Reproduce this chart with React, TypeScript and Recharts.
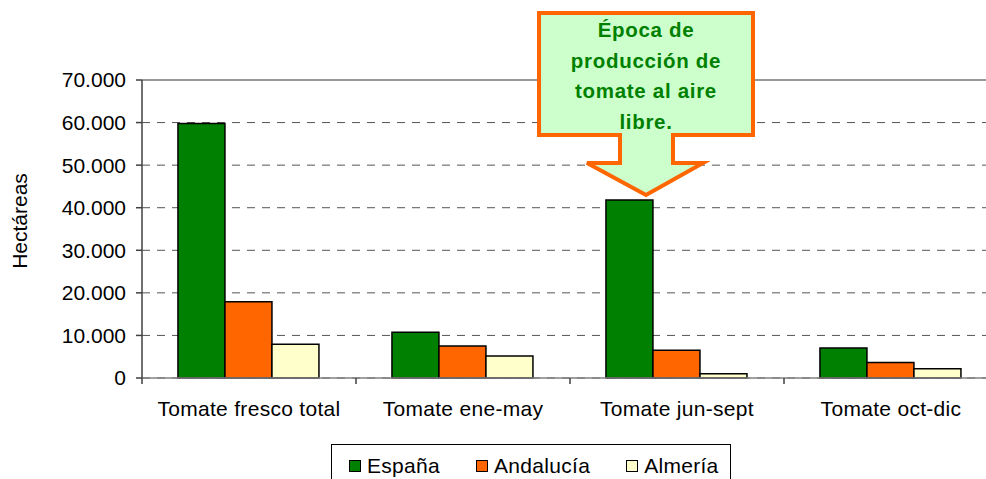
import { BarChart, Bar, XAxis, YAxis, CartesianGrid, ReferenceLine } from "recharts";

const categories = ["Tomate fresco total", "Tomate ene-may", "Tomate jun-sept", "Tomate oct-dic"];
const espana = [59800, 10750, 41800, 7050];
const andalucia = [17900, 7500, 6500, 3650];
const almeria = [7950, 5150, 1000, 2200];
const yTicks = [0, 10000, 20000, 30000, 40000, 50000, 60000, 70000];

const seriesList = [
  { key: "espana", name: "España", color: "#008000" },
  { key: "andalucia", name: "Andalucía", color: "#FF6600" },
  { key: "almeria", name: "Almería", color: "#FFFFCC" },
];

const data = categories.map((c, i) => ({
  category: c,
  espana: espana[i],
  andalucia: andalucia[i],
  almeria: almeria[i],
}));

const FONT = "'Liberation Sans', Arial, sans-serif";
const FS = 21;

const fmt = (v: number) => String(v).replace(/\B(?=(\d{3})+(?!\d))/g, ".");

// category label at the centre, tick mark on the left boundary of each band
const CategoryTick = (props: any) => {
  const { x, y, payload } = props;
  const half = payload.offset || 107;
  return (
    <g>
      <line x1={x - half} x2={x - half} y1={y} y2={y + 6} stroke="#404040" strokeWidth={1.5} />
      <text x={x} y={y + 38} textAnchor="middle" fill="#000" fontSize={FS} fontFamily={FONT} letterSpacing={0.3}>
        {payload.value}
      </text>
    </g>
  );
};

const YLabel = (props: any) => {
  const vb = props.viewBox || { x: 0, y: 80, width: 142, height: 298 };
  const x = vb.x + 27;
  const y = vb.y + vb.height / 2 - 8;
  return (
    <text
      x={x}
      y={y}
      transform={`rotate(-90, ${x}, ${y})`}
      textAnchor="middle"
      fill="#000"
      fontSize={FS}
      fontFamily={FONT}
    >
      Hectáreas
    </text>
  );
};

const Callout = () => (
  <svg width={986} height={479} style={{ position: "absolute", left: 0, top: 0, pointerEvents: "none" }}>
    <path
      d="M539,13 L753,13 L753,135 L673,135 L673,163 L703,163 L646,195 L587,163 L620,163 L620,135 L539,135 Z"
      fill="#CCFFCC"
      stroke="#FF6600"
      strokeWidth={4}
      strokeLinejoin="miter"
    />
    {["Época de", "producción de", "tomate al aire", "libre."].map((t, i) => (
      <text
        key={i}
        x={646}
        y={37 + i * 30.5}
        textAnchor="middle"
        fill="#008000"
        fontWeight="bold"
        fontSize={20.5}
        fontFamily={FONT}
        letterSpacing={0.7}
      >
        {t}
      </text>
    ))}
  </svg>
);

const LegendBox = () => (
  <div
    style={{
      position: "absolute",
      left: 331,
      top: 444,
      width: 400,
      height: 44,
      border: "1px solid #000",
      boxSizing: "border-box",
      display: "flex",
      alignItems: "flex-start",
      paddingLeft: 17,
      paddingTop: 9,
      fontFamily: FONT,
      fontSize: FS,
      letterSpacing: 0.3,
      background: "#fff",
    }}
  >
    {seriesList.map((s, i) => (
      <div key={s.key} style={{ display: "flex", alignItems: "center", marginRight: i < 2 ? 36 : 0 }}>
        <span
          style={{
            display: "inline-block",
            width: 10,
            height: 10,
            background: s.color,
            border: "1.5px solid #000",
            marginRight: 6,
          }}
        />
        <span style={{ lineHeight: "24px" }}>{s.name}</span>
      </div>
    ))}
  </div>
);

export default function App() {
  return (
    <div
      style={{
        position: "absolute",
        left: 0,
        top: 0,
        width: 986,
        height: 479,
        overflow: "hidden",
        background: "#fff",
      }}
    >
      <BarChart
        width={1000}
        height={479}
        data={data}
        margin={{ top: 80, right: 2, left: 0, bottom: 0 }}
        barCategoryGap="16.8%"
        barGap={0}
      >
        <CartesianGrid vertical={false} stroke="#555" strokeDasharray="8 7" />
        <XAxis
          dataKey="category"
          interval={0}
          height={101}
          tickLine={false}
          tickSize={0}
          tickMargin={0}
          axisLine={{ stroke: "#808080", strokeWidth: 1.5 }}
          tick={<CategoryTick />}
        />
        <YAxis
          width={142}
          domain={[0, 70000]}
          ticks={yTicks}
          interval={0}
          tickFormatter={fmt}
          tickSize={6}
          tickMargin={10}
          axisLine={{ stroke: "#404040", strokeWidth: 1.5 }}
          tickLine={{ stroke: "#404040", strokeWidth: 1.5 }}
          tick={{ fill: "#000", fontSize: FS, fontFamily: FONT }}
          label={<YLabel />}
        />
        <ReferenceLine y={70000} stroke="#999" strokeWidth={2} />
        {seriesList.map((s) => (
          <Bar
            key={s.key}
            dataKey={s.key}
            name={s.name}
            fill={s.color}
            stroke="#000"
            strokeWidth={1.5}
            isAnimationActive={false}
          />
        ))}
      </BarChart>
      <Callout />
      <LegendBox />
    </div>
  );
}
